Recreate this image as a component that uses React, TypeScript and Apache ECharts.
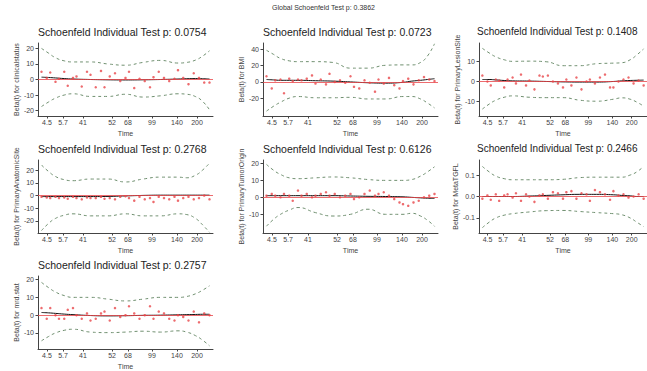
import React, { useEffect, useRef } from "react";
import * as echarts from "echarts";

// Shared event positions (km-transformed time, 0..1 scale of the axis)
const eventX = [0.02, 0.05, 0.07, 0.1, 0.12, 0.15, 0.17, 0.2, 0.22, 0.25, 0.28, 0.3, 0.33, 0.36, 0.38, 0.41, 0.44, 0.47, 0.5, 0.52, 0.55, 0.58, 0.61, 0.64, 0.66, 0.69, 0.72, 0.75, 0.78, 0.8, 0.83, 0.86, 0.89, 0.92, 0.95, 0.98];
const xBreakPos = [0.051, 0.143, 0.257, 0.423, 0.514, 0.651, 0.794, 0.909];
const xBreakLabels = ["4.5", "5.7", "41", "52", "68", "99", "140", "200"];
const smoothX = [0.02, 0.06, 0.1, 0.15, 0.2, 0.3, 0.4, 0.5, 0.6, 0.7, 0.8, 0.85, 0.9, 0.94, 0.98];

const globalTitle = "Global Schoenfeld Test p: 0.3862";
const pValues = ["0.0754", "0.0723", "0.1408", "0.2768", "0.6126", "0.2466", "0.2757"];
const yNames = [
  "Beta(t) for clinicalstatus",
  "Beta(t) for BMI",
  "Beta(t) for PrimaryLesionSite",
  "Beta(t) for PrimaryAnatomicSite",
  "Beta(t) for PrimaryTumorOrigin",
  "Beta(t) for MetaTGFL",
  "Beta(t) for mrd.stat",
];

// Panel 1
const p1Resid = [5, 1, 4.5, -1.5, 0.5, 5, -4, 1, 2, -4.5, 5, 3, -5, 5.5, -5, 2, 4, -1, 1, 5, -5.5, 0.5, -1, -5, 1.5, 5, 1, -1, 0.5, 6, 1, -3, 4, 1, -2, -2];
const p1Fit = [1.5, 1.3, 1, 0.6, 0.3, 0, -0.2, -0.3, -0.2, 0, 0.3, 0.5, 0.6, 0.5, 0.3];
const p1Upper = [20, 17, 14, 12, 11.3, 11.3, 10, 9.2, 11, 12.3, 10.6, 11, 12.5, 15, 18.5];
const p1Lower = [-17.4, -14.5, -12, -10, -9.2, -10.9, -10.9, -9.5, -11.3, -10.5, -9.2, -9.5, -11, -14, -19.5];
// Panel 2
const p2Resid = [7, -8, 2, 3, -14, 4, 1, 3, 2, 4, 8, -2, 3, -3, 10, 0, 2, -1, 7, -6, -8, 2, -1, -12, 3, -2, 5, -4, -8, 1, 4, -3, 2, 6, 3, 1];
const p2Fit = [3, 2.5, 2, 2, 2, 1.5, 1, 0, -1, -1.5, -0.5, 1, 2, 3, 4];
const p2Upper = [39, 34, 29, 26, 25, 25, 24, 17, 17, 20.5, 21, 21, 24, 32, 47];
const p2Lower = [-36, -30, -25, -20, -18, -19.5, -19.5, -19, -21, -21, -18, -18, -21, -26, -32];
// Panel 3
const p3Resid = [3, 0, -2, 1, 0.5, -3, 1, 2, -1, 3.5, -2, 0.5, -4, 3, 2.5, 3, 0, -1, -3, 1, -2, 2, -4, 0, 1, -1, 2, 3.5, -3, -3, 0, 1, 2, -1, 0.5, -2];
const p3Fit = [1, 1, 0.8, 0.5, 0.3, 0.2, 0, -0.2, -0.3, -0.3, 0, 0.3, 0.5, 0.6, 0.7];
const p3Upper = [16.8, 14.5, 12.5, 11, 10.2, 10.3, 10, 8, 8, 9, 9.3, 9.5, 11, 13.5, 16.5];
const p3Lower = [-14, -11.5, -9.5, -8, -7.3, -8, -8.2, -8.2, -9.5, -10, -9, -8.3, -9, -10.5, -12.5];
// Panel 4
const p4Resid = [-1, -1.5, -2, -1, -2, -1.5, -2.5, -1, -2, -3, -1.5, -2, -2, -1, -2.5, -2, -3, -1, -0.5, -2, -4, -1, -3, -2, -5, -1, -2, -3, -1, -4, -2, -1, -3, -2, 0, -3];
const p4Fit = [-0.8, -0.8, -0.8, -0.8, -0.8, -0.8, -0.7, -0.3, 0.1, 0.3, 0.3, 0.3, 0.3, 0.3, 0.3];
const p4Upper = [24, 19, 15, 12.5, 11.7, 13, 13, 10.7, 13, 14.5, 14.5, 14, 16, 20, 25.5];
const p4Lower = [-27.6, -22, -18, -15.5, -14.4, -16, -16, -14.4, -16, -16, -14.4, -15, -18, -23, -29];
// Panel 5
const p5Resid = [1, 2, 1, 0, 2, 1, -2, 4, 1, 2, 0, 1, 2, 3, 1, 2, 0, 1, 2, -1, 0, 2, 4, 1, 2, 3, 1, -1, -3, -4, -5, -3, -2, 0, 1, 2];
const p5Fit = [1, 1, 1, 1, 1, 1, 1, 0.8, 0.6, 0.5, 0.3, 0, -0.3, -0.5, -0.6];
const p5Upper = [19.4, 16, 13.5, 11.5, 11, 11.5, 12, 11.5, 10.5, 10, 10, 10.5, 12.5, 15, 18];
const p5Lower = [-17, -13, -10, -7.5, -6, -9, -11, -10, -7, -10, -10, -9.4, -11, -13.5, -17];
// Panel 6
const p6Resid = [-0.01, 0.005, -0.015, 0.01, -0.02, 0.005, 0.01, -0.005, 0.015, -0.02, 0.01, 0, -0.025, 0.005, 0.01, -0.01, 0.02, 0.015, -0.01, 0.02, 0.025, -0.01, 0.015, 0.01, -0.02, 0.03, 0.02, 0.01, -0.015, 0.025, 0.005, 0.01, -0.005, 0, 0.01, -0.01];
const p6Fit = [0, 0, 0, 0, 0, 0.002, 0.005, 0.008, 0.01, 0.01, 0.008, 0.005, 0.003, 0, 0];
const p6Upper = [0.14, 0.115, 0.095, 0.083, 0.078, 0.078, 0.078, 0.08, 0.088, 0.09, 0.09, 0.09, 0.1, 0.115, 0.14];
const p6Lower = [-0.145, -0.12, -0.1, -0.087, -0.08, -0.072, -0.066, -0.065, -0.07, -0.075, -0.08, -0.085, -0.1, -0.12, -0.14];
// Panel 7
const p7Resid = [4, -2, 4, 0, -2, -2, 3, 4, 0, -2, 1, -3, -2, 1, 2, -3, 4, -1, 0, 5, 1, -2, 0, 5, -2, 2, 1, -2, -3, 0, -1, -3, 2, -4, 1, 0];
const p7Fit = [1.5, 1.3, 1, 0.6, 0.3, -0.2, -0.4, -0.3, -0.1, 0, 0.2, 0.3, 0.4, 0.5, 0.5];
const p7Upper = [18.4, 15.5, 13, 11, 10, 10, 9, 8, 9, 10, 10, 10.5, 12, 14, 16.5];
const p7Lower = [-14.4, -12, -10, -8.5, -7.9, -9.5, -9.8, -9.5, -9, -9.5, -8.8, -9.5, -11.5, -14, -17.2];

const yMins = [-23.5, -42, -17.5, -29.5, -21, -0.17, -19];
const yMaxs = [23.5, 48, 19.5, 28, 22, 0.17, 22];
const yTicks = [
  [-20, -10, 0, 10, 20],
  [-20, 0, 20, 40],
  [-10, 0, 10],
  [-20, -10, 0, 10, 20],
  [-10, 0, 10, 20],
  [-0.1, 0, 0.1],
  [-10, 0, 10, 20],
];

const resids = [p1Resid, p2Resid, p3Resid, p4Resid, p5Resid, p6Resid, p7Resid];
const fits = [p1Fit, p2Fit, p3Fit, p4Fit, p5Fit, p6Fit, p7Fit];
const uppers = [p1Upper, p2Upper, p3Upper, p4Upper, p5Upper, p6Upper, p7Upper];
const lowers = [p1Lower, p2Lower, p3Lower, p4Lower, p5Lower, p6Lower, p7Lower];

const FONT = "Liberation Sans, Arial, sans-serif";
const colLeft = [38, 263, 479];
const rowTop = [43, 160, 276];
const gridW = 175;
const gridH = 73;

export default function App() {
  const ref = useRef<HTMLDivElement>(null);
  useEffect(() => {
    document.body.style.margin = "0";
    const chart = echarts.init(ref.current!, null, { renderer: "svg" });
    const grids: any[] = [];
    const xAxes: any[] = [];
    const yAxes: any[] = [];
    const series: any[] = [];
    const titles: any[] = [
      {
        text: globalTitle,
        left: 272,
        top: 4,
        padding: 0,
        textStyle: { fontSize: 7, fontWeight: "normal", color: "#333", fontFamily: FONT },
      },
    ];
    for (let i = 0; i < 7; i++) {
      const col = i % 3;
      const row = Math.floor(i / 3);
      const left = colLeft[col];
      const top = rowTop[row];
      grids.push({ left, top, width: gridW, height: gridH, containLabel: false });
      titles.push({
        text: "Schoenfeld Individual Test p: " + pValues[i],
        left: col === 2 ? left - 2 : left,
        top: top - 17,
        padding: 0,
        textStyle: { fontSize: col === 2 ? 10 : 10.5, fontWeight: "normal", color: "#222", fontFamily: FONT },
      });
      xAxes.push({
        gridIndex: i,
        type: "value",
        min: 0,
        max: 1,
        name: "Time",
        nameLocation: "middle",
        nameGap: 14,
        nameTextStyle: { fontSize: 7, color: "#444", fontFamily: FONT },
        axisLine: { show: true, onZero: false, lineStyle: { color: "#444", width: 1 } },
        axisTick: { show: true, length: 2.5, customValues: xBreakPos, lineStyle: { color: "#444" } },
        axisLabel: {
          customValues: xBreakPos,
          fontSize: 7,
          color: "#444",
          margin: 3,
          fontFamily: FONT,
          formatter: (v: number) => {
            const k = xBreakPos.findIndex((p) => Math.abs(p - v) < 1e-6);
            return k >= 0 ? xBreakLabels[k] : "";
          },
        },
        splitLine: { show: false },
      });
      yAxes.push({
        gridIndex: i,
        type: "value",
        min: yMins[i],
        max: yMaxs[i],
        name: yNames[i],
        nameLocation: "middle",
        nameRotate: 90,
        nameGap: i === 5 ? 19 : 18,
        nameTextStyle: { fontSize: 7, color: "#444", fontFamily: FONT },
        axisLine: { show: true, onZero: false, lineStyle: { color: "#444", width: 1 } },
        axisTick: { show: true, length: 2.5, customValues: yTicks[i], lineStyle: { color: "#444" } },
        axisLabel: {
          customValues: yTicks[i],
          fontSize: 7,
          color: "#444",
          margin: 4,
          fontFamily: FONT,
          formatter: (v: number) => (i === 5 ? v.toFixed(1) : String(Math.round(v))),
        },
        splitLine: { show: false },
      });
      series.push({
        type: "line",
        xAxisIndex: i,
        yAxisIndex: i,
        data: smoothX.map((x, j) => [x, fits[i][j]]),
        smooth: true,
        showSymbol: false,
        lineStyle: { color: "#111", width: 1 },
        z: 3,
        markLine: {
          silent: true,
          symbol: "none",
          label: { show: false },
          lineStyle: { color: "#e8464a", type: "solid", width: 0.8 },
          data: [{ yAxis: 0 }],
        },
      });
      for (const band of [uppers[i], lowers[i]]) {
        series.push({
          type: "line",
          xAxisIndex: i,
          yAxisIndex: i,
          data: smoothX.map((x, j) => [x, band[j]]),
          smooth: true,
          showSymbol: false,
          lineStyle: { color: "#6f8f6f", width: 1, type: [3, 3] },
          z: 3,
        });
      }
      series.push({
        type: "scatter",
        xAxisIndex: i,
        yAxisIndex: i,
        data: eventX.map((x, j) => [x, resids[i][j]]),
        symbolSize: 2.5,
        itemStyle: { color: "#e8464a" },
        z: 4,
      });
    }
    chart.setOption({
      animation: false,
      backgroundColor: "#ffffff",
      title: titles,
      grid: grids,
      xAxis: xAxes,
      yAxis: yAxes,
      series,
    });
    return () => chart.dispose();
  }, []);
  return <div ref={ref} style={{ width: 647, height: 371 }} />;
}
